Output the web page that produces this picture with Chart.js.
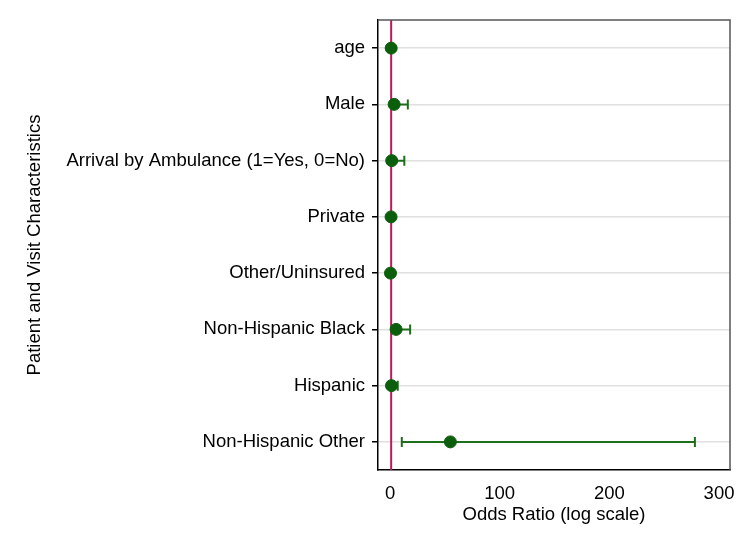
<!DOCTYPE html>
<html>
<head>
<meta charset="utf-8">
<script src="https://cdn.jsdelivr.net/npm/chart.js@4"></script>
<style>
  html, body { margin: 0; padding: 0; background: #fff; }
  #wrap { width: 750px; height: 545px; position: relative; }
</style>
</head>
<body>
<div id="wrap"><canvas id="chart"></canvas></div>
<script>
// Data
const categories = ['age', 'Male', 'Arrival by Ambulance (1=Yes, 0=No)', 'Private',
  'Other/Uninsured', 'Non-Hispanic Black', 'Hispanic', 'Non-Hispanic Other'];
const oddsRatio = [1.0, 3.7, 1.5, 0.9, 0.4, 5.5, 1.3, 55];
const ciLow = [0.9, 0.9, 0.3, 0.8, 0.2, 1.5, 0.5, 10.7];
const ciHigh = [1.1, 16.2, 13, 1.0, 0.6, 18.3, 7, 278];
const xTicks = [0, 100, 200, 300];
const refLine = 1;

const green = '#0b5e0b';
const fontSize = 18.5;

// error bars + reference line, drawn from the scales
const ciPlugin = {
  id: 'ci',
  beforeDatasetsDraw(chart) {
    const { ctx, chartArea, scales: { x, y } } = chart;
    ctx.save();
    // reference line at OR = 1
    const rx = x.getPixelForValue(refLine);
    ctx.strokeStyle = '#c2185b';
    ctx.lineWidth = 2;
    ctx.beginPath();
    ctx.moveTo(rx, chartArea.top);
    ctx.lineTo(rx, chartArea.bottom);
    ctx.stroke();

    ctx.strokeStyle = '#1e6e1e';
    ctx.lineWidth = 2;
    categories.forEach((c, i) => {
      const py = y.getPixelForValue(i);
      const x1 = x.getPixelForValue(ciLow[i]);
      const x2 = x.getPixelForValue(ciHigh[i]);
      ctx.beginPath();
      ctx.moveTo(x1, py); ctx.lineTo(x2, py);
      ctx.moveTo(x1, py - 5); ctx.lineTo(x1, py + 5);
      ctx.moveTo(x2, py - 5); ctx.lineTo(x2, py + 5);
      ctx.stroke();
    });
    ctx.restore();
  },
  afterDraw(chart) {
    // top and right frame
    const { ctx, chartArea } = chart;
    ctx.save();
    ctx.strokeStyle = '#555';
    ctx.lineWidth = 1.5;
    ctx.beginPath();
    ctx.moveTo(chartArea.left, chartArea.top);
    ctx.lineTo(chartArea.right, chartArea.top);
    ctx.lineTo(chartArea.right, chartArea.bottom);
    ctx.stroke();
    ctx.restore();
  }
};

Chart.defaults.font.family = '"Liberation Sans", Arial, sans-serif';
Chart.defaults.color = '#000';

new Chart(document.getElementById('chart'), {
  type: 'scatter',
  data: {
    datasets: [{
      data: categories.map((c, i) => ({ x: oddsRatio[i], y: c })),
      backgroundColor: green,
      borderColor: green,
      pointRadius: 6,
      pointHoverRadius: 6
    }]
  },
  plugins: [ciPlugin],
  options: {
    responsive: true,
    maintainAspectRatio: false,
    animation: false,
    layout: { padding: { top: 20, right: 20, left: 0, bottom: 19 } },
    plugins: { legend: { display: false }, tooltip: { enabled: false } },
    scales: {
      x: {
        type: 'linear',
        min: -11,
        max: 310,
        afterBuildTicks: (s) => { s.ticks = xTicks.map(v => ({ value: v })); },
        afterFit: (s) => { s.height = 56; },
        grid: { display: false, drawTicks: true, tickLength: 6, tickColor: '#000' },
        border: { color: '#000', width: 1.5 },
        ticks: { font: { size: fontSize }, padding: 7, maxRotation: 0 },
        title: { display: true, text: 'Odds Ratio (log scale)', font: { size: fontSize }, padding: { top: 0, bottom: 0 } }
      },
      y: {
        type: 'category',
        labels: categories,
        offset: true,
        afterFit: (s) => { s.width = 378; },
        grid: { color: '#e0e0e0', lineWidth: 1.5, offset: false, tickLength: 6, tickColor: '#000' },
        border: { color: '#000', width: 1.5 },
        ticks: { font: { size: fontSize }, padding: 7 },
        title: { display: true, text: 'Patient and Visit Characteristics', font: { size: fontSize }, padding: { top: 24 } }
      }
    }
  }
});
</script>
</body>
</html>
